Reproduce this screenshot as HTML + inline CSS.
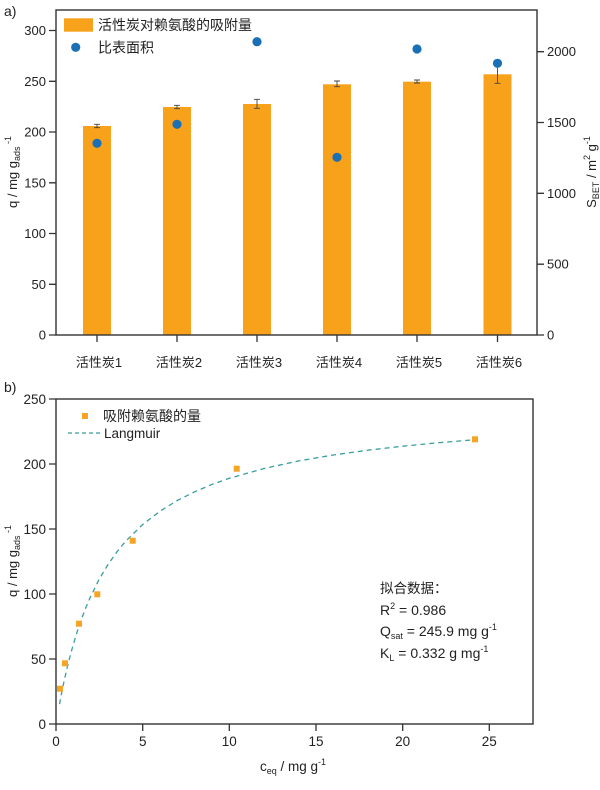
<!DOCTYPE html>
<html><head><meta charset="utf-8"><style>
html,body{margin:0;padding:0;background:#fff;}
svg{display:block;}
text{font-family:"Liberation Sans","Noto Sans CJK SC",sans-serif;fill:#222;}
</style></head><body>
<svg width="600" height="790" viewBox="0 0 600 790" xmlns="http://www.w3.org/2000/svg">
<!-- Panel a -->
<text x="4" y="16" font-size="14">a)</text>
<!-- bars -->
<g fill="#F8A21C">
<rect x="83" y="126" width="28" height="209"/>
<rect x="163" y="107" width="28" height="228"/>
<rect x="243" y="104" width="28" height="231"/>
<rect x="323" y="84.3" width="28" height="250.7"/>
<rect x="403" y="81.7" width="28" height="253.3"/>
<rect x="483.5" y="74.3" width="28" height="260.7"/>
</g>
<!-- error bars -->
<g stroke="#444" stroke-width="0.9" fill="none">
<path d="M97 124.3V127.7M94 124.3H100M94 127.7H100"/>
<path d="M177 105.3V108.7M174 105.3H180M174 108.7H180"/>
<path d="M257 99.3V108.3M254 99.3H260M254 108.3H260"/>
<path d="M337 81V86.7M334 81H340M334 86.7H340"/>
<path d="M417 80V83M414 80H420M414 83H420"/>
<path d="M497.5 61.7V83.3M494.5 61.7H500.5M494.5 83.3H500.5"/>
</g>
<!-- dots -->
<g fill="#1A6FB5">
<circle cx="97" cy="143.3" r="4.6"/>
<circle cx="177" cy="124.3" r="4.6"/>
<circle cx="257" cy="41.7" r="4.6"/>
<circle cx="337" cy="157.3" r="4.6"/>
<circle cx="417" cy="49" r="4.6"/>
<circle cx="497.5" cy="63.3" r="4.6"/>
</g>
<!-- frame -->
<rect x="56" y="10" width="481" height="325" fill="none" stroke="#333" stroke-width="1.4"/>
<!-- left ticks -->
<g stroke="#333" stroke-width="1.3">
<path d="M49 335H56M49 284.3H56M49 233.5H56M49 182.8H56M49 132H56M49 81.3H56M49 30.5H56"/>
<path d="M537 335H544M537 264.2H544M537 193.3H544M537 122.5H544M537 51.7H544"/>
<path d="M97 335V342M177 335V342M257 335V342M337 335V342M417 335V342M497.5 335V342"/>
</g>
<g font-size="13" text-anchor="end">
<text x="46" y="339.5">0</text>
<text x="46" y="288.8">50</text>
<text x="46" y="238">100</text>
<text x="46" y="187.3">150</text>
<text x="46" y="136.5">200</text>
<text x="46" y="85.8">250</text>
<text x="46" y="35">300</text>
</g>
<g font-size="13">
<text x="547" y="339.5">0</text>
<text x="547" y="268.7">500</text>
<text x="547" y="197.8">1000</text>
<text x="547" y="127">1500</text>
<text x="547" y="56.2">2000</text>
</g>
<g font-size="13" text-anchor="middle">
<text x="99" y="367">活性炭1</text>
<text x="179" y="367">活性炭2</text>
<text x="259" y="367">活性炭3</text>
<text x="339" y="367">活性炭4</text>
<text x="419" y="367">活性炭5</text>
<text x="499" y="367">活性炭6</text>
</g>
<!-- legend a -->
<rect x="64" y="18.3" width="29" height="13.4" fill="#F8A21C"/>
<text x="98" y="30" font-size="14">活性炭对赖氨酸的吸附量</text>
<circle cx="75.7" cy="47.3" r="4.6" fill="#1A6FB5"/>
<text x="98" y="52.5" font-size="14">比表面积</text>
<!-- axis titles a -->
<text transform="translate(17,172) rotate(-90)" font-size="13" text-anchor="middle">q / mg g<tspan font-size="9" dy="3">ads</tspan><tspan font-size="9" dy="-9"> -1</tspan></text>
<text transform="translate(596,172) rotate(-90)" font-size="13" text-anchor="middle">S<tspan font-size="9" dy="3">BET</tspan><tspan dy="-3"> / m</tspan><tspan font-size="9" dy="-6">2</tspan><tspan dy="6"> g</tspan><tspan font-size="9" dy="-6">-1</tspan></text>

<!-- Panel b -->
<text x="4" y="392" font-size="14">b)</text>
<path d="M59.5 704.1 L62.9 686.5 L66.4 670.9 L69.9 656.9 L73.3 644.3 L77.7 630.2 L82 617.7 L86.3 606.5 L90.7 596.4 L99.3 579 L108 564.5 L116.7 552.2 L125.3 541.6 L142.7 524.5 L160 511.2 L177.3 500.5 L194.7 491.8 L212 484.4 L229.3 478.3 L264 468.5 L298.7 460.9 L333.3 455 L368 450.2 L402.7 446.2 L437.3 442.8 L475.5 439.7" fill="none" stroke="#3A9E9E" stroke-width="1.3" stroke-dasharray="5,4"/>
<g fill="#F5A423">
<rect x="57" y="685.7" width="6" height="6"/>
<rect x="62" y="660.3" width="6" height="6"/>
<rect x="76" y="620.7" width="6" height="6"/>
<rect x="94.3" y="591.3" width="6" height="6"/>
<rect x="129.7" y="537.7" width="6" height="6"/>
<rect x="233.7" y="465.7" width="6" height="6"/>
<rect x="472" y="436.3" width="6" height="6"/>
</g>
<rect x="56" y="399" width="477" height="325" fill="none" stroke="#333" stroke-width="1.4"/>
<g stroke="#333" stroke-width="1.3">
<path d="M49 724H56M49 659H56M49 594H56M49 529H56M49 464H56M49 399H56"/>
<path d="M56 724V731M142.7 724V731M229.3 724V731M316 724V731M402.7 724V731M489.3 724V731"/>
</g>
<g font-size="13.5" text-anchor="end">
<text x="46" y="728.8">0</text>
<text x="46" y="663.8">50</text>
<text x="46" y="598.8">100</text>
<text x="46" y="533.8">150</text>
<text x="46" y="468.8">200</text>
<text x="46" y="403.8">250</text>
</g>
<g font-size="13.5" text-anchor="middle">
<text x="56" y="746">0</text>
<text x="142.7" y="746">5</text>
<text x="229.3" y="746">10</text>
<text x="316" y="746">15</text>
<text x="402.7" y="746">20</text>
<text x="489.3" y="746">25</text>
</g>
<!-- legend b -->
<rect x="82" y="413" width="6" height="6" fill="#F5A423"/>
<text x="103" y="421" font-size="14">吸附赖氨酸的量</text>
<path d="M68 433H100" stroke="#3A9E9E" stroke-width="1.3" stroke-dasharray="4,3"/>
<text x="104" y="438" font-size="13.5">Langmuir</text>
<!-- annotation -->
<text x="380" y="593" font-size="13.5">拟合数据：</text>
<text x="380" y="615" font-size="14">R<tspan font-size="9" dy="-6">2</tspan><tspan dy="6"> = 0.986</tspan></text>
<text x="380" y="636" font-size="14">Q<tspan font-size="9" dy="3">sat</tspan><tspan dy="-3"> = 245.9 mg g</tspan><tspan font-size="9" dy="-6">-1</tspan></text>
<text x="380" y="658" font-size="14">K<tspan font-size="9" dy="3">L</tspan><tspan dy="-3"> = 0.332 g mg</tspan><tspan font-size="9" dy="-6">-1</tspan></text>
<!-- axis titles b -->
<text transform="translate(17,561) rotate(-90)" font-size="13" text-anchor="middle">q / mg g<tspan font-size="9" dy="3">ads</tspan><tspan font-size="9" dy="-9"> -1</tspan></text>
<text x="293" y="771" font-size="13.5" text-anchor="middle">c<tspan font-size="9" dy="3">eq</tspan><tspan dy="-3"> / mg g</tspan><tspan font-size="9" dy="-6">-1</tspan></text>
</svg>
</body></html>
